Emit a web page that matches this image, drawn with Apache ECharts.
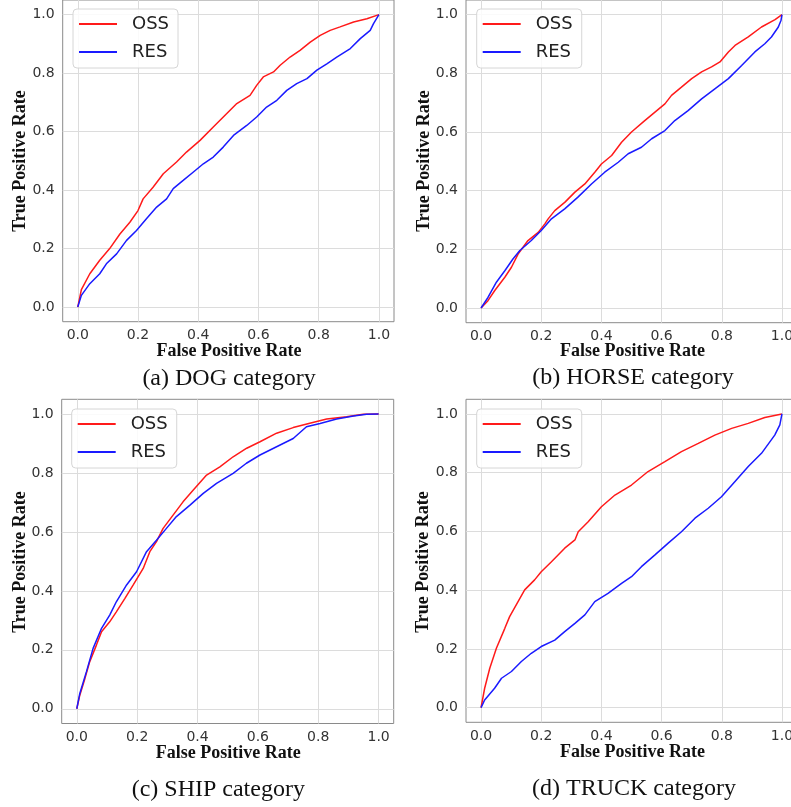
<!DOCTYPE html>
<html>
<head>
<meta charset="utf-8">
<script src="https://cdn.jsdelivr.net/npm/echarts@6/dist/echarts.min.js"></script>
<style>
  html, body { margin: 0; padding: 0; background: #fff; }
  #chart { width: 791px; height: 807px; }
</style>
</head>
<body>
<div id="chart"></div>
<script>
// ROC curves (False Positive Rate, True Positive Rate) for four categories.
const tickValues = [0, 0.2, 0.4, 0.6, 0.8, 1.0];
const seriesNames = ['OSS', 'RES'];
const captions = ['(a) DOG category', '(b) HORSE category', '(c) SHIP category', '(d) TRUCK category'];

// DOG
const dogOssFpr = [0, 0.012, 0.04, 0.073, 0.106, 0.14, 0.173, 0.2, 0.217, 0.25, 0.284, 0.328, 0.361, 0.406, 0.45, 0.494, 0.528, 0.572, 0.594, 0.616, 0.65, 0.672, 0.705, 0.738, 0.772, 0.805, 0.838, 0.871, 0.916, 0.96, 1];
const dogOssTpr = [0, 0.06, 0.114, 0.16, 0.2, 0.25, 0.29, 0.33, 0.37, 0.41, 0.456, 0.496, 0.53, 0.57, 0.616, 0.661, 0.696, 0.724, 0.758, 0.787, 0.804, 0.827, 0.855, 0.878, 0.906, 0.929, 0.946, 0.958, 0.975, 0.986, 1];
const dogResFpr = [0, 0.012, 0.04, 0.073, 0.095, 0.129, 0.162, 0.195, 0.228, 0.262, 0.295, 0.317, 0.35, 0.384, 0.417, 0.45, 0.483, 0.517, 0.561, 0.594, 0.627, 0.661, 0.694, 0.727, 0.761, 0.794, 0.827, 0.86, 0.905, 0.938, 0.971, 0.982, 1];
const dogResTpr = [0, 0.04, 0.08, 0.114, 0.148, 0.182, 0.228, 0.262, 0.302, 0.342, 0.37, 0.405, 0.433, 0.462, 0.49, 0.513, 0.547, 0.587, 0.621, 0.65, 0.684, 0.707, 0.741, 0.764, 0.781, 0.81, 0.832, 0.855, 0.884, 0.918, 0.946, 0.969, 1];

// HORSE
const horseOssFpr = [0, 0.023, 0.045, 0.079, 0.101, 0.123, 0.156, 0.19, 0.212, 0.223, 0.245, 0.279, 0.312, 0.345, 0.378, 0.4, 0.434, 0.467, 0.5, 0.544, 0.578, 0.611, 0.633, 0.666, 0.7, 0.733, 0.766, 0.794, 0.822, 0.844, 0.888, 0.932, 0.977, 1];
const horseOssTpr = [0, 0.025, 0.059, 0.105, 0.139, 0.184, 0.23, 0.258, 0.287, 0.304, 0.332, 0.361, 0.395, 0.423, 0.463, 0.491, 0.52, 0.565, 0.6, 0.639, 0.668, 0.696, 0.725, 0.753, 0.782, 0.805, 0.822, 0.839, 0.873, 0.895, 0.924, 0.958, 0.983, 1];
const horseResFpr = [0, 0.023, 0.051, 0.079, 0.106, 0.129, 0.167, 0.2, 0.234, 0.278, 0.322, 0.367, 0.411, 0.456, 0.489, 0.533, 0.567, 0.611, 0.644, 0.688, 0.733, 0.777, 0.822, 0.866, 0.91, 0.943, 0.965, 0.988, 0.997, 1];
const horseResTpr = [0, 0.036, 0.088, 0.127, 0.167, 0.196, 0.23, 0.264, 0.304, 0.338, 0.378, 0.423, 0.463, 0.497, 0.526, 0.548, 0.577, 0.605, 0.639, 0.673, 0.713, 0.747, 0.782, 0.827, 0.873, 0.901, 0.924, 0.958, 0.981, 1];

// SHIP
const shipOssFpr = [0, 0.01, 0.027, 0.043, 0.065, 0.082, 0.109, 0.131, 0.159, 0.187, 0.22, 0.242, 0.264, 0.286, 0.319, 0.352, 0.386, 0.43, 0.474, 0.518, 0.563, 0.607, 0.662, 0.717, 0.772, 0.828, 0.894, 0.949, 1];
const shipOssTpr = [0, 0.046, 0.103, 0.16, 0.216, 0.261, 0.295, 0.329, 0.374, 0.42, 0.476, 0.533, 0.567, 0.612, 0.657, 0.702, 0.742, 0.793, 0.821, 0.855, 0.884, 0.906, 0.935, 0.954, 0.969, 0.983, 0.991, 0.999, 1];
const shipResFpr = [0, 0.01, 0.032, 0.054, 0.082, 0.109, 0.131, 0.165, 0.198, 0.231, 0.264, 0.297, 0.33, 0.375, 0.419, 0.463, 0.518, 0.562, 0.607, 0.662, 0.717, 0.761, 0.806, 0.861, 0.917, 0.96, 1];
const shipResTpr = [0, 0.052, 0.126, 0.205, 0.273, 0.318, 0.363, 0.42, 0.465, 0.533, 0.572, 0.612, 0.652, 0.691, 0.731, 0.765, 0.799, 0.833, 0.861, 0.889, 0.917, 0.957, 0.968, 0.983, 0.993, 0.999, 1];

// TRUCK
const truckOssFpr = [0, 0.012, 0.029, 0.051, 0.079, 0.095, 0.123, 0.145, 0.178, 0.2, 0.234, 0.278, 0.312, 0.323, 0.356, 0.4, 0.445, 0.5, 0.555, 0.611, 0.666, 0.722, 0.777, 0.833, 0.888, 0.943, 1];
const truckOssTpr = [0, 0.066, 0.134, 0.202, 0.27, 0.31, 0.361, 0.401, 0.435, 0.463, 0.497, 0.543, 0.571, 0.599, 0.633, 0.684, 0.724, 0.758, 0.804, 0.838, 0.872, 0.9, 0.928, 0.951, 0.968, 0.988, 1];
const truckResFpr = [0, 0.012, 0.045, 0.068, 0.101, 0.134, 0.167, 0.2, 0.245, 0.278, 0.312, 0.345, 0.378, 0.422, 0.467, 0.5, 0.533, 0.578, 0.622, 0.666, 0.711, 0.755, 0.799, 0.844, 0.888, 0.932, 0.976, 0.993, 1];
const truckResTpr = [0, 0.026, 0.066, 0.1, 0.123, 0.157, 0.185, 0.208, 0.23, 0.259, 0.287, 0.316, 0.361, 0.389, 0.423, 0.446, 0.48, 0.52, 0.56, 0.599, 0.645, 0.679, 0.718, 0.77, 0.821, 0.866, 0.928, 0.963, 1];

const panels = [
  { oss: [dogOssFpr, dogOssTpr], res: [dogResFpr, dogResTpr] },
  { oss: [horseOssFpr, horseOssTpr], res: [horseResFpr, horseResTpr] },
  { oss: [shipOssFpr, shipOssTpr], res: [shipResFpr, shipResTpr] },
  { oss: [truckOssFpr, truckOssTpr], res: [truckResFpr, truckResTpr] }
];

// Layout of the four plot boxes (pixels); the right-hand boxes run past the canvas edge
const boxes = [
  { left: 62.7, top: 0,     width: 331.3, height: 321.7 },
  { left: 466,  top: 0,     width: 331,   height: 322.7 },
  { left: 61.7, top: 399.3, width: 332,   height: 324.2 },
  { left: 466,  top: 399.3, width: 331,   height: 323 }
];
const legendPos = [
  { left: 73, top: 9 },
  { left: 476.7, top: 9 },
  { left: 71.7, top: 409 },
  { left: 476.7, top: 409 }
];
const xNamePos = [[229, 351], [632.5, 351.7], [228.3, 753.3], [632.5, 752.3]];
const yNamePos = [[20.5, 161], [424, 161], [20, 562], [423.5, 562]];
const captionPos = [[229, 379], [633, 378], [218.3, 790], [634, 788.3]];

const RED = '#ff1a1a';
const BLUE = '#1a1aff';
const tickFont = 'DejaVu Sans';

const pairs = (xs, ys) => xs.map((x, i) => [x, ys[i]]);
const isMajor = v => tickValues.some(t => Math.abs(t - v) < 1e-6);

// Axis runs from -0.05 to 1.05 in 0.05 steps; only every fourth step
// (0, 0.2, ... 1.0) carries a grid line and a label.
const GRID_COLOR = '#dcdcdc';
const splitColors = ['rgba(0,0,0,0)', GRID_COLOR, 'rgba(0,0,0,0)', 'rgba(0,0,0,0)'];

const grid = [], xAxis = [], yAxis = [], series = [], legend = [], graphic = [];

boxes.forEach((b, i) => {
  grid.push({
    left: b.left, top: b.top, width: b.width, height: b.height,
    outerBoundsMode: 'none', containLabel: false,
    show: true, borderColor: '#8a8a8a', borderWidth: 1, backgroundColor: 'transparent'
  });
  const makeAxis = margin => ({
    type: 'value', gridIndex: i, min: -0.05, max: 1.05, interval: 0.05,
    axisLine: { show: false }, axisTick: { show: false },
    splitLine: { show: true, lineStyle: { color: splitColors, width: 1 } },
    axisLabel: {
      showMinLabel: false, showMaxLabel: false, margin, hideOverlap: false,
      color: '#333', fontFamily: tickFont, fontSize: 14,
      formatter: v => (isMajor(v) ? (Math.round(v * 10) / 10).toFixed(1) : '')
    }
  });
  xAxis.push(makeAxis(7));
  yAxis.push(makeAxis(8));

  const p = panels[i];
  series.push({
    name: seriesNames[0], type: 'line', xAxisIndex: i, yAxisIndex: i,
    data: pairs(p.oss[0], p.oss[1]), symbol: 'none', smooth: false,
    lineStyle: { color: RED, width: 1.5 }, itemStyle: { color: RED }, z: 3
  });
  series.push({
    name: seriesNames[1], type: 'line', xAxisIndex: i, yAxisIndex: i,
    data: pairs(p.res[0], p.res[1]), symbol: 'none', smooth: false,
    lineStyle: { color: BLUE, width: 1.5 }, itemStyle: { color: BLUE }, z: 4
  });

  legend.push({
    data: seriesNames.map(n => ({ name: n, icon: 'rect' })),
    orient: 'vertical', selectedMode: false,
    left: legendPos[i].left, top: legendPos[i].top,
    padding: [5, 9, 6, 6], itemGap: 8, itemWidth: 38, itemHeight: 2,
    backgroundColor: 'rgba(255,255,255,0.85)', borderColor: '#d6d6d6', borderWidth: 1, borderRadius: 4,
    textStyle: { fontFamily: tickFont, fontSize: 18, color: '#222', lineHeight: 20, padding: [0, 0, 0, 10] }
  });

  graphic.push({
    type: 'text', x: xNamePos[i][0], y: xNamePos[i][1],
    style: { text: 'False Positive Rate', font: 'bold 18px "Liberation Serif"', fill: '#111', align: 'center', verticalAlign: 'middle' }
  });
  graphic.push({
    type: 'text', x: yNamePos[i][0], y: yNamePos[i][1], rotation: Math.PI / 2,
    style: { text: 'True Positive Rate', font: 'bold 18px "Liberation Serif"', fill: '#111', align: 'center', verticalAlign: 'middle' }
  });
  graphic.push({
    type: 'text', x: captionPos[i][0], y: captionPos[i][1],
    style: { text: captions[i], font: '24px "Liberation Serif"', fill: '#111', align: 'center', verticalAlign: 'middle' }
  });
});

const chart = echarts.init(document.getElementById('chart'), null, { renderer: 'canvas' });
chart.setOption({
  animation: false,
  backgroundColor: '#fff',
  grid, xAxis, yAxis, series, legend, graphic
});
</script>
</body>
</html>
